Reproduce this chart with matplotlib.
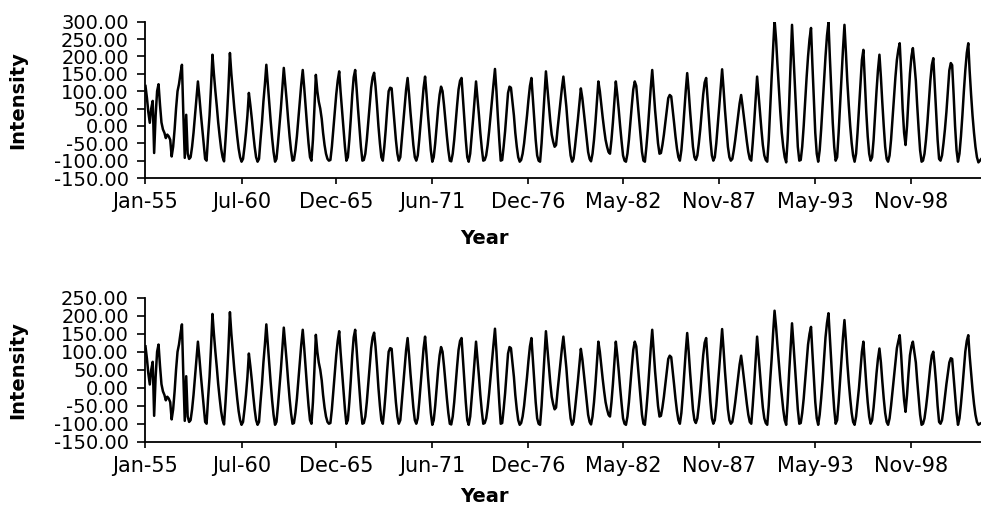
import numpy as np
import pandas as pd
import matplotlib
matplotlib.use("Agg")
import matplotlib.pyplot as plt
from matplotlib.dates import DateFormatter
from matplotlib.ticker import FormatStrFormatter, MultipleLocator

# monthly intensity, one row per year (Jan..Dec); 1955-1989 is the same in both panels
shared = [
    [115, 80, 40, 9, 50, 72, -78, 30, 100, 120, 60, 10],            # 1955
    [-10, -20, -35, -25, -30, -40, -88, -60, -10, 50, 100, 120],     # 1956
    [150, 176, 40, -92, 32, -80, -95, -90, -60, -20, 30, 80],        # 1957
    [128, 83, 38, -7, -52, -95, -100, -30, 30, 110, 205, 150],       # 1958
    [100, 55, 10, -30, -65, -90, -102, -40, 30, 110, 210, 150],      # 1959
    [100, 50, 10, -30, -65, -90, -103, -95, -60, -20, 30, 95],       # 1960
    [60, 20, -20, -60, -90, -103, -95, -40, 10, 70, 120, 176],       # 1961
    [120, 65, 15, -35, -75, -103, -95, -50, 0, 50, 110, 167],        # 1962
    [120, 70, 20, -30, -70, -100, -98, -70, -30, 20, 70, 120],       # 1963
    [161, 110, 55, 0, -50, -90, -100, -40, 50, 147, 100, 70],        # 1964
    [50, 20, -20, -55, -80, -95, -100, -98, -60, -10, 40, 90],       # 1965
    [130, 157, 100, 45, -10, -60, -100, -90, -40, 20, 90, 140],      # 1966
    [161, 105, 50, -5, -60, -100, -98, -80, -40, 10, 60, 110],       # 1967
    [140, 153, 115, 60, 0, -50, -90, -100, -60, -10, 50, 100],       # 1968
    [110, 108, 60, 10, -40, -80, -100, -90, -40, 10, 60, 105],       # 1969
    [138, 90, 40, -10, -55, -90, -100, -85, -40, 10, 60, 110],       # 1970
    [142, 90, 35, -20, -70, -103, -90, -50, 0, 50, 90, 113],         # 1971
    [100, 60, 15, -30, -70, -100, -102, -80, -40, 10, 60, 105],      # 1972
    [130, 138, 80, 20, -40, -90, -103, -80, -30, 20, 75, 128],       # 1973
    [80, 30, -20, -65, -100, -98, -85, -55, -15, 30, 75, 120],       # 1974
    [164, 100, 30, -40, -100, -98, -60, -15, 40, 95, 113, 110],      # 1975
    [70, 30, -20, -60, -90, -103, -98, -80, -50, -10, 30, 75],       # 1976
    [115, 138, 80, 20, -40, -85, -100, -103, -50, 20, 90, 157],      # 1977
    [110, 60, 15, -25, -45, -60, -55, -10, 30, 70, 110, 142],        # 1978
    [100, 55, 5, -45, -85, -103, -95, -60, -20, 20, 65, 108],        # 1979
    [80, 40, 0, -40, -75, -95, -102, -80, -40, 10, 70, 128],         # 1980
    [100, 60, 25, -10, -40, -60, -75, -80, -40, 10, 70, 128],        # 1981
    [90, 45, 0, -45, -85, -100, -103, -80, -40, 10, 60, 105],        # 1982
    [128, 115, 70, 20, -30, -75, -100, -103, -60, -10, 50, 110],     # 1983
    [161, 100, 45, -5, -50, -80, -78, -55, -25, 10, 45, 80],         # 1984
    [89, 85, 50, 10, -30, -65, -90, -100, -70, -20, 40, 100],        # 1985
    [152, 100, 45, -10, -60, -90, -98, -85, -50, -10, 40, 90],       # 1986
    [125, 138, 80, 20, -40, -85, -100, -90, -50, 0, 55, 110],        # 1987
    [163, 105, 45, -10, -60, -90, -100, -95, -70, -40, -5, 30],      # 1988
    [65, 89, 60, 25, -10, -45, -75, -95, -100, -50, 10, 75],         # 1989
]

# 1990-2002, upper panel
top_tail = [
    [142, 90, 40, -10, -55, -85, -98, -103, -40, 50, 140, 220],      # 1990
    [305, 250, 180, 110, 40, -20, -60, -90, -105, -40, 60, 170],     # 1991
    [291, 200, 110, 20, -60, -100, -98, -60, 0, 70, 140, 200],       # 1992
    [250, 282, 180, 80, -20, -80, -103, -70, -10, 60, 130, 200],     # 1993
    [260, 298, 200, 100, 10, -60, -100, -90, -20, 60, 140, 220],     # 1994
    [291, 210, 130, 60, 0, -50, -85, -103, -80, -20, 50, 120],       # 1995
    [190, 219, 130, 40, -30, -80, -100, -90, -40, 30, 100, 160],     # 1996
    [205, 140, 70, 0, -60, -95, -103, -85, -40, 20, 80, 140],        # 1997
    [190, 220, 238, 150, 50, -20, -55, 0, 80, 150, 200, 224],        # 1998
    [180, 130, 60, -10, -70, -103, -100, -80, -40, 10, 70, 130],     # 1999
    [175, 195, 120, 40, -40, -95, -100, -85, -50, -10, 40, 100],     # 2000
    [160, 181, 175, 90, 0, -70, -103, -80, -30, 30, 100, 160],       # 2001
    [210, 238, 160, 90, 30, -20, -60, -90, -105, -100, -95, -90],    # 2002
]

# 1990-2002, lower panel
bottom_tail = [
    [142, 90, 40, -10, -55, -85, -98, -103, -50, 20, 80, 150],       # 1990
    [214, 170, 120, 70, 20, -20, -60, -90, -103, -40, 40, 110],      # 1991
    [179, 120, 60, 0, -60, -100, -98, -70, -30, 20, 70, 120],        # 1992
    [150, 169, 100, 30, -40, -85, -103, -75, -30, 20, 80, 140],      # 1993
    [180, 207, 140, 70, 0, -60, -100, -90, -40, 20, 80, 140],        # 1994
    [188, 130, 70, 15, -30, -70, -95, -103, -80, -40, 0, 50],        # 1995
    [100, 128, 70, 10, -40, -80, -100, -90, -55, -10, 40, 80],       # 1996
    [109, 70, 20, -30, -70, -95, -103, -85, -50, -10, 30, 70],       # 1997
    [110, 130, 146, 90, 20, -35, -67, -20, 40, 90, 115, 128],        # 1998
    [100, 70, 20, -30, -75, -103, -100, -85, -55, -20, 20, 60],      # 1999
    [90, 100, 60, 10, -50, -95, -100, -90, -60, -25, 10, 40],        # 2000
    [70, 82, 80, 30, -20, -70, -103, -85, -45, 0, 50, 100],          # 2001
    [130, 146, 90, 40, -5, -45, -75, -95, -103, -100, -98, -95],     # 2002
]

tick_dates = ["1955-01", "1960-07", "1965-12", "1971-06", "1976-12",
              "1982-05", "1987-11", "1993-05", "1998-11"]

plt.rcParams['font.family'] = 'DejaVu Sans'
plt.rcParams['axes.unicode_minus'] = False

top = np.concatenate([np.ravel(shared), np.ravel(top_tail)])
bottom = np.concatenate([np.ravel(shared), np.ravel(bottom_tail)])
dates = pd.date_range("1955-01-01", periods=len(top), freq="MS")

fig = plt.figure(figsize=(9.81, 5.05), dpi=100)
ax1 = fig.add_axes([0.1483, 0.6475, 0.8517, 0.3095])
ax2 = fig.add_axes([0.1483, 0.1253, 0.8517, 0.2851])


def style(ax, series, ymin, ymax):
    ax.plot(dates, series, color='black', lw=1.8)
    ax.set_ylim(ymin, ymax)
    ax.yaxis.set_major_locator(MultipleLocator(50))
    ax.yaxis.set_major_formatter(FormatStrFormatter('%.2f'))
    ax.set_xlim(pd.Timestamp("1955-01-01"), pd.Timestamp("2002-10-25"))
    ax.set_xticks(pd.to_datetime(tick_dates))
    ax.xaxis.set_major_formatter(DateFormatter('%b-%y'))
    for s in ['top', 'right']:
        ax.spines[s].set_visible(False)
    ax.spines['left'].set_linewidth(1.3)
    ax.spines['bottom'].set_linewidth(1.3)
    ax.tick_params(axis='y', length=6, width=1.2, pad=6, labelsize=14)
    ax.tick_params(axis='x', length=4, width=1.2, pad=6, labelsize=15)
    ax.set_ylabel('Intensity', fontsize=14, fontweight='bold')
    ax.yaxis.set_label_coords(-0.142, 0.5)


style(ax1, top, -150, 300)
style(ax2, bottom, -150, 250)

fig.text(0.4934, 0.5287, 'Year', ha='center', va='center', fontsize=14, fontweight='bold')
fig.text(0.4934, 0.0170, 'Year', ha='center', va='center', fontsize=14, fontweight='bold')

fig.savefig('out.png', dpi=100)
